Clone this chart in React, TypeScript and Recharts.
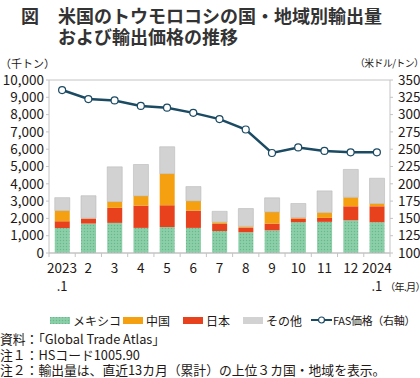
import { ComposedChart, Bar, Line, XAxis, YAxis, CartesianGrid } from 'recharts';

const months = ['2023', '2', '3', '4', '5', '6', '7', '8', '9', '10', '11', '12', '2024'];
const mexico = [1450, 1700, 1740, 1450, 1500, 1450, 1270, 1200, 1310, 1780, 1800, 1890, 1780];
const japan = [380, 290, 870, 1290, 1260, 1000, 410, 270, 390, 210, 230, 810, 920];
const china = [620, 20, 360, 560, 1830, 560, 100, 70, 670, 60, 310, 520, 160];
const others = [750, 1300, 2010, 1815, 1550, 830, 630, 1030, 820, 810, 1250, 1610, 1460];
const fasPrice = [335.5, 322.5, 320.5, 312.5, 310, 302.5, 293.5, 278.5, 244.5, 252.5, 247.5, 245.5, 245.5];

const leftTicks = [0, 1000, 2000, 3000, 4000, 5000, 6000, 7000, 8000, 9000, 10000];
const rightTicks = [100, 125, 150, 175, 200, 225, 250, 275, 300, 325, 350];

const titleLines = ['米国のトウモロコシの国・地域別輸出量', 'および輸出価格の推移'];
const notes = [
    '資料：「Global Trade Atlas」',
    '注１：HSコード1005.90',
    '注２：輸出量は、直近13カ月（累計）の上位３カ国・地域を表示。',
];

const data = months.map((m, i) => ({
    month: m,
    mexico: mexico[i],
    japan: japan[i],
    china: china[i],
    others: others[i],
    fas: fasPrice[i],
}));

const font = '"Noto Sans CJK JP", "Noto Sans", sans-serif';
const textColor = '#231815';
const gridColor = '#c4c4c4';

const CHART_W = 420;
const PLOT_LEFT = 49;
const PLOT_RIGHT = 30;
const band = (CHART_W - PLOT_LEFT - PLOT_RIGHT) / months.length;

// x tick: label at centre, tick marks at the band edges, ".1" under year labels
const MonthTick = (props: any) => {
    const { x, y, payload, index } = props;
    const isYear = payload.value.length === 4;
    return (
        <g>
            <line x1={x - band / 2} x2={x - band / 2} y1={y - 8} y2={y - 4} stroke={gridColor} />
            {index === months.length - 1 && (
                <line x1={x + band / 2} x2={x + band / 2} y1={y - 8} y2={y - 4} stroke={gridColor} />
            )}
            <text x={x} y={y + 12} textAnchor="middle" fontSize={13.5} fill={textColor} fontFamily={font}>
                {payload.value}
            </text>
            {isYear && (
                <text x={x} y={y + 30} textAnchor="middle" fontSize={13} fill={textColor} fontFamily={font}>
                    .1
                </text>
            )}
        </g>
    );
};

const legendItems = [
    { label: 'メキシコ', color: 'url(#dots)', x: 50, w: 20 },
    { label: '中国', color: '#f4a011', x: 123, w: 20 },
    { label: '日本', color: '#e8411e', x: 183, w: 20 },
    { label: 'その他', color: '#d2d2d2', x: 243, w: 20 },
];

export default function App() {
    return (
        <div style={{ position: 'absolute', left: 0, top: 0, width: 420, height: 378, fontFamily: font, color: textColor, overflow: 'hidden', background: '#fff' }}>
            <div style={{ position: 'absolute', left: 21, top: 5, fontSize: 18, fontWeight: 700, lineHeight: '20px', color: '#333' }}>図</div>
            {titleLines.map((t, i) => (
                <div key={t} style={{ position: 'absolute', left: 58, top: 5 + i * 21, fontSize: 18, fontWeight: 700, lineHeight: '20px', color: '#333', whiteSpace: 'nowrap' }}>
                    {t}
                </div>
            ))}
            <div style={{ position: 'absolute', left: 0, top: 55, fontSize: 11, whiteSpace: 'nowrap' }}>（千トン）</div>
            <div style={{ position: 'absolute', left: 355, top: 56, fontSize: 9.8, whiteSpace: 'nowrap', letterSpacing: -0.5 }}>（米ドル/トン）</div>
            <div style={{ position: 'absolute', left: 385, top: 279, fontSize: 10.2, whiteSpace: 'nowrap', letterSpacing: -0.7 }}>（年.月）</div>

            <div style={{ position: 'absolute', left: 0, top: 0 }}>
                <svg width={0} height={0} style={{ position: 'absolute' }}>
                    <defs>
                        <pattern id="dots" width="3" height="3" patternUnits="userSpaceOnUse">
                            <rect width="3" height="3" fill="#86cca4" />
                            <rect x="0" y="0" width="1" height="1" fill="#6bb68c" />
                            <rect x="1.5" y="1.5" width="1" height="1" fill="#9ad6b3" />
                        </pattern>
                    </defs>
                </svg>
                <ComposedChart
                    width={CHART_W}
                    height={300}
                    data={data}
                    margin={{ top: 80, right: 0, left: 0, bottom: 0 }}
                    barCategoryGap="22%"
                >
                    <CartesianGrid vertical={false} stroke={gridColor} />
                    <XAxis
                        dataKey="month"
                        height={47}
                        axisLine={{ stroke: gridColor }}
                        tickLine={false}
                        tick={<MonthTick />}
                        interval={0}
                    />
                    <YAxis
                        yAxisId="left"
                        width={PLOT_LEFT}
                        domain={[0, 10000]}
                        ticks={leftTicks}
                        interval={0}
                        tickFormatter={(v: number) => v.toLocaleString('en-US')}
                        axisLine={{ stroke: gridColor }}
                        tickLine={{ stroke: gridColor }}
                        tickSize={3}
                        tickMargin={2}
                        tick={{ fill: textColor, fontSize: 13.5, fontFamily: font }}
                    />
                    <YAxis
                        yAxisId="right"
                        orientation="right"
                        width={PLOT_RIGHT}
                        domain={[100, 350]}
                        ticks={rightTicks}
                        interval={0}
                        axisLine={{ stroke: gridColor }}
                        tickLine={{ stroke: gridColor }}
                        tickSize={3}
                        tickMargin={5}
                        tick={{ fill: textColor, fontSize: 13.5, fontFamily: font }}
                    />
                    <Bar yAxisId="left" dataKey="mexico" stackId="a" fill="url(#dots)" isAnimationActive={false} />
                    <Bar yAxisId="left" dataKey="japan" stackId="a" fill="#e8411e" isAnimationActive={false} />
                    <Bar yAxisId="left" dataKey="china" stackId="a" fill="#f4a011" isAnimationActive={false} />
                    <Bar yAxisId="left" dataKey="others" stackId="a" fill="#d2d2d2" stroke="#b8b8b8" strokeWidth={0.6} isAnimationActive={false} />
                    <Line
                        yAxisId="right"
                        dataKey="fas"
                        type="linear"
                        stroke="#1b4a63"
                        strokeWidth={2.5}
                        dot={{ r: 3.5, fill: '#fff', stroke: '#1b4a63', strokeWidth: 1.2 }}
                        isAnimationActive={false}
                    />
                </ComposedChart>
            </div>

            {legendItems.map((it) => (
                <div key={it.label} style={{ position: 'absolute', left: it.x, top: 312, display: 'flex', alignItems: 'center', fontSize: 12, whiteSpace: 'nowrap' }}>
                    <svg width={it.w} height={7} style={{ marginRight: 3 }}>
                        <rect width={it.w} height={7} fill={it.color} />
                    </svg>
                    {it.label}
                </div>
            ))}
            <div style={{ position: 'absolute', left: 311, top: 312, display: 'flex', alignItems: 'center', fontSize: 11, whiteSpace: 'nowrap', letterSpacing: -0.3 }}>
                <svg width={21} height={10} style={{ marginRight: 1 }}>
                    <line x1={0} x2={21} y1={5} y2={5} stroke="#1b4a63" strokeWidth={2} />
                    <circle cx={10.5} cy={5} r={3} fill="#fff" stroke="#1b4a63" strokeWidth={1.2} />
                </svg>
                FAS価格（右軸）
            </div>

            {notes.map((n, i) => (
                <div key={n} style={{ position: 'absolute', left: 0, top: 331 + i * 15.5, fontSize: 12.8, lineHeight: '15px', whiteSpace: 'nowrap' }}>
                    {n}
                </div>
            ))}
        </div>
    );
}
